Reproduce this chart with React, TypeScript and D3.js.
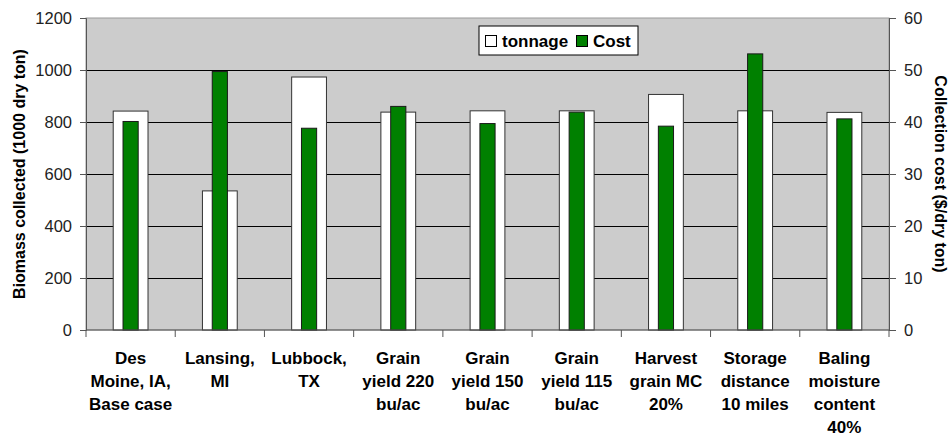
import React, { useEffect, useRef } from 'react';
import * as d3 from 'd3';

const categories = [
  ['Des', 'Moine, IA,', 'Base case'],
  ['Lansing,', 'MI'],
  ['Lubbock,', 'TX'],
  ['Grain', 'yield 220', 'bu/ac'],
  ['Grain', 'yield 150', 'bu/ac'],
  ['Grain', 'yield 115', 'bu/ac'],
  ['Harvest', 'grain MC', '20%'],
  ['Storage', 'distance', '10 miles'],
  ['Baling', 'moisture', 'content', '40%'],
];
const tonnage = [842, 535, 973, 838, 843, 843, 906, 843, 837];
const cost = [40.1, 49.7, 38.8, 43.0, 39.7, 41.9, 39.2, 53.1, 40.6];
const leftTicks = [0, 200, 400, 600, 800, 1000, 1200];
const rightTicks = [0, 10, 20, 30, 40, 50, 60];

const W = 950;
const H = 437;
const margin = { left: 86, right: 61, top: 18, bottom: 107 };
const font = '"Liberation Sans", Arial, sans-serif';

export default function App() {
  const ref = useRef<SVGSVGElement>(null);

  useEffect(() => {
    const svg = d3.select(ref.current);
    svg.selectAll('*').remove();

    const x0 = margin.left;
    const x1 = W - margin.right;
    const y0 = H - margin.bottom;
    const y1 = margin.top;

    const x = d3.scaleBand<number>()
      .domain(d3.range(categories.length))
      .range([x0, x1])
      .padding(0);
    const yL = d3.scaleLinear().domain([0, 1200]).range([y0, y1]);
    const yR = d3.scaleLinear().domain([0, 60]).range([y0, y1]);

    // plot area
    svg.append('rect')
      .attr('x', x0).attr('y', y1)
      .attr('width', x1 - x0).attr('height', y0 - y1)
      .attr('fill', '#cccccc')
      .attr('stroke', '#999999');

    // gridlines
    svg.append('g')
      .selectAll('line')
      .data(leftTicks.slice(1, -1))
      .join('line')
      .attr('x1', x0).attr('x2', x1)
      .attr('y1', d => Math.round(yL(d)) + 0.5)
      .attr('y2', d => Math.round(yL(d)) + 0.5)
      .attr('stroke', '#000');

    const bw = x.bandwidth();

    // tonnage bars
    svg.append('g')
      .selectAll('rect')
      .data(tonnage)
      .join('rect')
      .attr('x', (d, i) => x(i)! + bw * 0.305)
      .attr('width', bw * 0.39)
      .attr('y', d => yL(d))
      .attr('height', d => y0 - yL(d))
      .attr('fill', '#fff')
      .attr('stroke', '#333')
      .attr('stroke-width', 1);

    // cost bars
    svg.append('g')
      .selectAll('rect')
      .data(cost)
      .join('rect')
      .attr('x', (d, i) => x(i)! + bw * 0.415)
      .attr('width', bw * 0.17)
      .attr('y', d => yR(d))
      .attr('height', d => y0 - yR(d))
      .attr('fill', '#008000')
      .attr('stroke', '#1a1a1a')
      .attr('stroke-width', 1);

    // left axis
    const left = svg.append('g')
      .attr('transform', `translate(${x0},0)`)
      .call(d3.axisLeft(yL).tickValues(leftTicks).tickFormat(d3.format('d')).tickSize(6).tickPadding(8));
    left.select('.domain').attr('stroke', '#555');
    left.selectAll('line').attr('stroke', '#555');
    left.selectAll('text')
      .attr('font-family', font).attr('font-size', 16.5).attr('fill', '#222');

    // right axis
    const right = svg.append('g')
      .attr('transform', `translate(${x1},0)`)
      .call(d3.axisRight(yR).tickValues(rightTicks).tickFormat(d3.format('d')).tickSize(7).tickPadding(8));
    right.select('.domain').attr('stroke', '#555');
    right.selectAll('line').attr('stroke', '#555');
    right.selectAll('text')
      .attr('font-family', font).attr('font-size', 16.5).attr('fill', '#222');

    // bottom axis line and category ticks
    svg.append('line')
      .attr('x1', x0).attr('x2', x1)
      .attr('y1', y0).attr('y2', y0)
      .attr('stroke', '#555');
    svg.append('g')
      .selectAll('line')
      .data(d3.range(categories.length + 1))
      .join('line')
      .attr('x1', i => (i < categories.length ? x(i)! : x1))
      .attr('x2', i => (i < categories.length ? x(i)! : x1))
      .attr('y1', y0).attr('y2', y0 + 7)
      .attr('stroke', '#555');

    // category labels
    const labels = svg.append('g')
      .attr('font-family', font)
      .attr('font-size', 17)
      .attr('font-weight', 'bold')
      .attr('text-anchor', 'middle')
      .attr('fill', '#000');
    categories.forEach((lines, i) => {
      const t = labels.append('text')
        .attr('x', x(i)! + bw / 2)
        .attr('y', 363.5);
      lines.forEach((s, j) => {
        t.append('tspan')
          .attr('x', x(i)! + bw / 2)
          .attr('y', 363.5 + j * 23.3)
          .text(s);
      });
    });

    // axis titles
    svg.append('text')
      .attr('transform', `translate(25,${(y0 + y1) / 2}) rotate(-90)`)
      .attr('text-anchor', 'middle')
      .attr('font-family', font).attr('font-size', 16).attr('font-weight', 'bold')
      .text('Biomass collected (1000 dry ton)');
    svg.append('text')
      .attr('transform', `translate(935,${(y0 + y1) / 2}) rotate(90)`)
      .attr('text-anchor', 'middle')
      .attr('font-family', font).attr('font-size', 16).attr('font-weight', 'bold')
      .text('Collection cost ($/dry ton)');

    // legend
    const lg = svg.append('g').attr('transform', 'translate(479,26)');
    lg.append('rect')
      .attr('width', 159).attr('height', 29)
      .attr('fill', '#fff').attr('stroke', '#000');
    lg.append('rect')
      .attr('x', 6.5).attr('y', 9.5).attr('width', 11).attr('height', 11)
      .attr('fill', '#fff').attr('stroke', '#000');
    lg.append('text')
      .attr('x', 23).attr('y', 20.5)
      .attr('font-family', font).attr('font-size', 17).attr('font-weight', 'bold')
      .text('tonnage');
    lg.append('rect')
      .attr('x', 97.5).attr('y', 9.5).attr('width', 11).attr('height', 11)
      .attr('fill', '#008000').attr('stroke', '#000');
    lg.append('text')
      .attr('x', 114).attr('y', 20.5)
      .attr('font-family', font).attr('font-size', 17).attr('font-weight', 'bold')
      .text('Cost');
  }, []);

  return (
    <svg
      ref={ref}
      width={W}
      height={H}
      style={{ position: 'absolute', left: 0, top: 0, background: '#fff' }}
    />
  );
}
